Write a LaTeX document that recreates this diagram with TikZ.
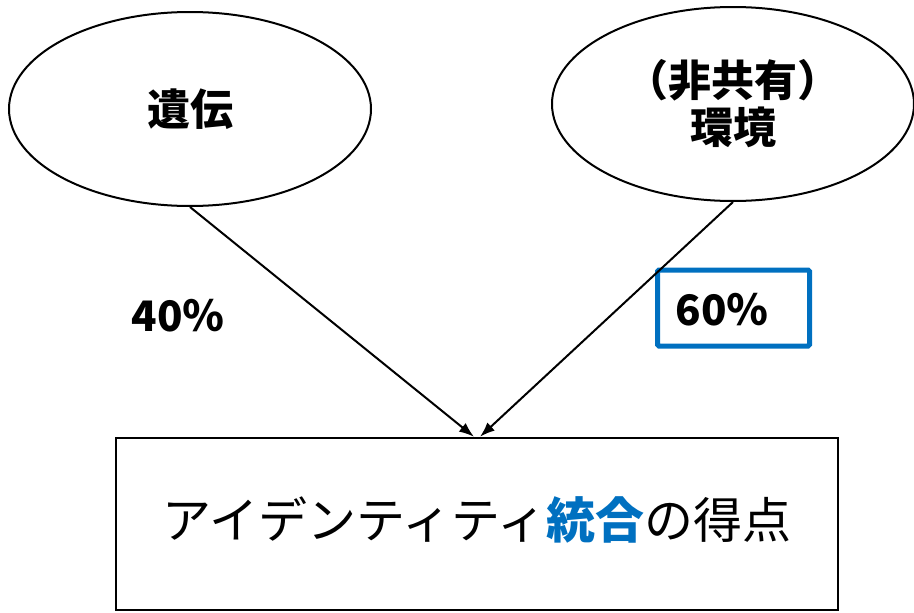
\documentclass[tikz,border=0pt]{standalone}
\usepackage{fontspec}
\setmainfont{Noto Sans CJK JP}
\usetikzlibrary{shapes.geometric,arrows.meta}
\definecolor{accent}{RGB}{0,112,192}
\tikzset{
  oval/.style={ellipse,draw,line width=2pt,inner sep=0pt,minimum width=362pt,minimum height=194pt,
    font=\bfseries\fontsize{43}{47}\selectfont,align=center},
  resultbox/.style={draw,line width=2.4pt,inner sep=0pt,minimum width=722pt,minimum height=172pt,
    font=\fontsize{49}{50}\selectfont},
  pct/.style={font=\bfseries\fontsize{42}{48}\selectfont,inner sep=0pt},
  hibox/.style={draw=accent,line width=5pt,rounded corners=1.5pt,minimum width=152pt,minimum height=76pt,inner sep=0pt},
  conn/.style={line width=2pt,-{Latex[length=15pt,width=11pt]}}
}
\begin{document}
\begin{tikzpicture}[x=1pt,y=-1pt]
\useasboundingbox (0,0) rectangle (914,613);
\node[oval] (G) at (190,109) {遺伝};
\node[oval] (E) at (733,104) {（非共有）\\環境};
\node[resultbox] (S) at (477,524) {};
\node[inner sep=0pt,font=\fontsize{49}{50}\selectfont] (St) at (477,520) {アイデンティティ{\bfseries\color{accent}統合}の得点};
\node[pct] (P1) at (178,316) {40％};
\node[hibox] (P2) at (733.5,308) {};
\node[pct] (P2t) at (722,310) {60％};
\draw[conn] (G.south) -- ([xshift=-3pt]S.north);
\draw[conn] (E.south) -- ([xshift=3pt]S.north);
\end{tikzpicture}
\end{document}
